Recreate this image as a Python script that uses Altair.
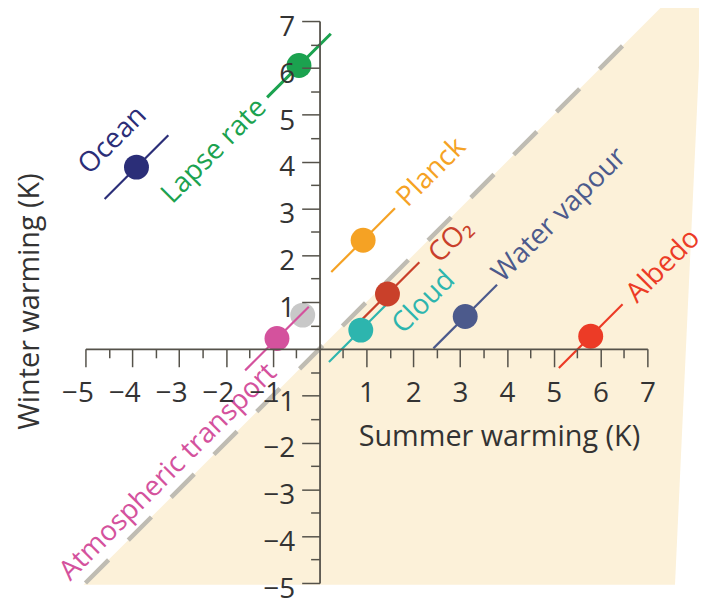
import altair as alt
import pandas as pd

# ---- data ----
names = ["Ocean", "Lapse rate", "Planck", "CO₂", "Cloud",
         "Atmospheric transport", "Water vapour", "Albedo"]
summer = [-3.91, -0.44, 0.93, 1.45, 0.88, -0.91, 3.11, 5.79]
winter = [3.88, 6.05, 2.32, 1.17, 0.40, 0.22, 0.69, 0.27]
colors = ["#2b2e78", "#1ba24f", "#f5a224", "#c9402a", "#2db5ae",
          "#d4529d", "#4c5a8c", "#ec3b26"]

other_summer = [-0.36]
other_winter = [0.72]

# label placement (offset of label anchor from the point, in K) and alignment
label_dx = [-1.13, -0.785, 0.83, 0.99, 0.78, -0.10, 0.68, 0.87]
label_dy = [-0.06, -0.81, 0.81, 0.76, 0.02, -0.64, 0.83, 0.81]
label_align = ["left", "right", "left", "left", "left", "right", "left", "left"]
seg_half = 0.68
seg_width = [2.2, 3.0, 2.2, 2.2, 2.2, 2.2, 2.2, 2.2]

major_ticks = [v for v in range(-5, 8) if v != 0]
minor_ticks = [v + 0.5 for v in range(-5, 7)]
diag = [-5, 6.6]
shade_x = [-5.04, 7.4, 7.59, 8.165]
shade_top = [-5.04, 7.4, 7.4, 7.4]
shade_bottom = [-5.04, -5.04, -5.04, 7.4]

FONT = "Open Sans"
AX = "#55524a"
TXT = "#333333"

df = pd.DataFrame({
    "name": names, "sx": summer, "wy": winter, "color": colors,
    "sw": seg_width,
})
df["x1"] = df["sx"] - seg_half
df["x2"] = df["sx"] + seg_half
df["y1"] = df["wy"] - seg_half
df["y2"] = df["wy"] + seg_half
df["lx"] = df["sx"] + pd.Series(label_dx)
df["ly"] = df["wy"] + pd.Series(label_dy)
df["align"] = label_align

sc = alt.Scale(domain=[-5, 7], nice=False, zero=False)

common = dict(title=None, grid=False, domainColor=AX, domainWidth=1.8,
              tickColor=AX, tickWidth=1.5, zindex=1, offset=-235.8)

xaxis = alt.Axis(values=major_ticks, orient="bottom", tickSize=18,
                 format="d", labelFont=FONT, labelFontSize=28, labelColor=TXT,
                 labelPadding=13.5, labelAlign="right", labelOffset=8,
                 labelFlush=False, labelOverlap=False, **common)
yaxis = alt.Axis(values=major_ticks, orient="left", tickSize=18,
                 format="d", labelFont=FONT, labelFontSize=28, labelColor=TXT,
                 labelPadding=7, labelAlign="right", labelBaseline="middle",
                 labelOffset=6.5, labelFlush=False, labelOverlap=False, **common)
xminor = alt.Axis(values=minor_ticks, orient="bottom", tickSize=9,
                  labels=False, domain=False, **common)
yminor = alt.Axis(values=minor_ticks, orient="left", tickSize=9,
                  labels=False, domain=False, **common)

shade = alt.Chart(pd.DataFrame({"x": shade_x, "y": shade_top, "y2": shade_bottom})).mark_area(
    color="#fcf1d9", opacity=1
).encode(
    x=alt.X("x:Q", scale=sc, axis=xaxis),
    y=alt.Y("y:Q", scale=sc, axis=yaxis),
    y2="y2:Q",
)

minor = alt.Chart(pd.DataFrame({"v": minor_ticks})).mark_point(opacity=0).encode(
    x=alt.X("v:Q", scale=sc, axis=xminor),
    y=alt.Y("v:Q", scale=sc, axis=yminor),
)

dashed = alt.Chart(pd.DataFrame({"x": diag, "y": diag})).mark_line(
    color="#bfbcb3", strokeWidth=4.5, strokeDash=[33, 28]
).encode(
    x=alt.X("x:Q", scale=sc, axis=None),
    y=alt.Y("y:Q", scale=sc, axis=None),
)

grey = alt.Chart(pd.DataFrame({"sx": other_summer, "wy": other_winter})).mark_circle(
    size=630, opacity=1, color="#c8c8c8"
).encode(
    x=alt.X("sx:Q", scale=sc, axis=None),
    y=alt.Y("wy:Q", scale=sc, axis=None),
)

segs = alt.Chart(df).mark_rule().encode(
    x=alt.X("x1:Q", scale=sc, axis=None), x2="x2:Q",
    y=alt.Y("y1:Q", scale=sc, axis=None), y2="y2:Q",
    color=alt.Color("color:N", scale=None),
    strokeWidth=alt.StrokeWidth("sw:Q", scale=None),
)

dots = alt.Chart(df).mark_circle(size=630, opacity=1).encode(
    x=alt.X("sx:Q", scale=sc, axis=None),
    y=alt.Y("wy:Q", scale=sc, axis=None),
    color=alt.Color("color:N", scale=None),
)

def label_layer(al):
    return alt.Chart(df).transform_filter(
        alt.datum.align == al
    ).mark_text(angle=315, align=al, baseline="middle", font=FONT, fontSize=28).encode(
        x=alt.X("lx:Q", scale=sc, axis=None),
        y=alt.Y("ly:Q", scale=sc, axis=None),
        text="name:N",
        color=alt.Color("color:N", scale=None),
    )

titles_df = pd.DataFrame({
    "t": ["Summer warming (K)"], "x": [3.84], "y": [-2.067]})
xtitle = alt.Chart(titles_df).mark_text(
    align="center", baseline="alphabetic", font=FONT, fontSize=29, color=TXT
).encode(x=alt.X("x:Q", scale=sc, axis=None), y=alt.Y("y:Q", scale=sc, axis=None), text="t:N")

ytitle_df = pd.DataFrame({"t": ["Winter warming (K)"], "x": [-5.99], "y": [1.01]})
ytitle = alt.Chart(ytitle_df).mark_text(
    angle=270, align="center", baseline="alphabetic", font=FONT, fontSize=29, color=TXT
).encode(x=alt.X("x:Q", scale=sc, axis=None), y=alt.Y("y:Q", scale=sc, axis=None), text="t:N")

chart = alt.layer(
    shade, minor, dashed, grey, segs, dots, label_layer("left"), label_layer("right"), xtitle, ytitle
).resolve_axis(
    x="independent", y="independent"
).properties(
    width=566, height=566,
    padding={"left": 78, "top": 11, "right": 52, "bottom": 13},
    autosize=alt.AutoSizeParams(type="none"),
).configure_view(stroke=None)

chart.save("out.html", embed_options={"renderer": "svg", "actions": False})
